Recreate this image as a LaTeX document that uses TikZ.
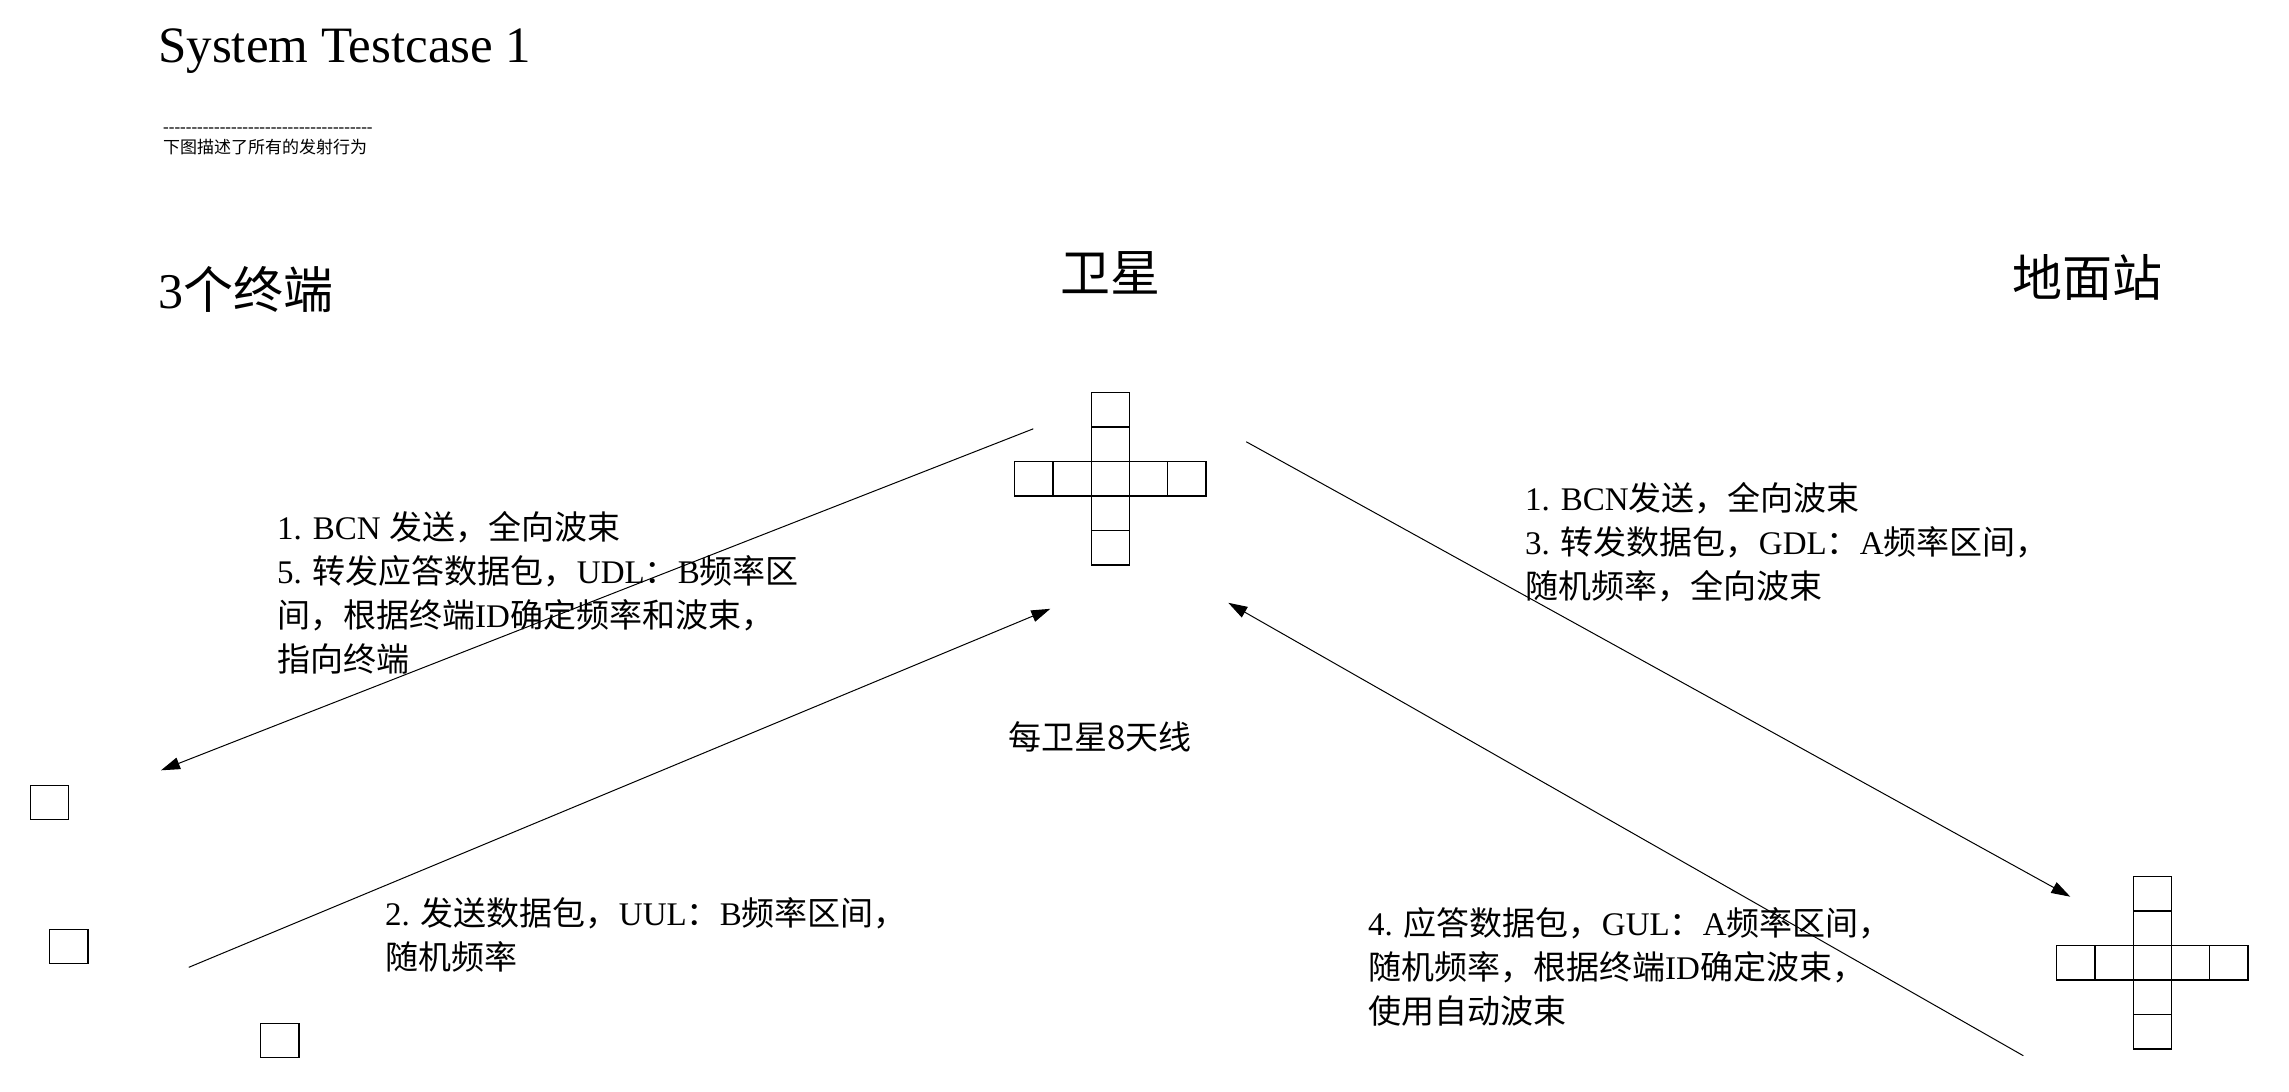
\documentclass[tikz,border=0pt]{standalone}
\usepackage{fontspec}
\setmainfont{Liberation Serif}
\newfontfamily\zh{Noto Sans CJK SC}
\newfontfamily\plainfont{Liberation Serif}
\usetikzlibrary{arrows.meta,calc}

\begin{document}
\begin{tikzpicture}[x=1pt,y=-1pt,
  cell/.style={draw, line width=1.3pt, minimum width=38.3pt, minimum height=34.5pt, inner sep=0pt, outer sep=0pt},
  termbox/.style={draw, line width=1.3pt, minimum width=38.5pt, minimum height=34pt, inner sep=0pt},
  conn/.style={line width=1pt, -{Triangle[length=19pt,width=12pt]}},
  lab/.style={anchor=north west, inner sep=0pt, align=left, font=\fontsize{33}{44}\selectfont},
  heading/.style={inner sep=0pt, font=\fontsize{50}{50}\selectfont}]

\useasboundingbox (0,0) rectangle (2289,1092);

% title and note
\node[anchor=base west, inner sep=0pt, font=\fontsize{51}{51}\selectfont] (title) at (158,62) {System Testcase 1};
\node[anchor=west, inner sep=0pt, font=\fontsize{17}{17}\plainfont] (rule) at (163,130) {-------------------------------------};
\node[anchor=west, inner sep=0pt, font=\fontsize{17}{17}\zh] (note) at (163,147) {下图描述了所有的发射行为};

% column headings
\node[heading, anchor=west] (hterm) at (158,290) {3{\zh 个终端}};
\node[heading] (hsat) at (1110,273) {\zh 卫星};
\node[heading] (hgnd) at (2087,277) {\zh 地面站};

% satellite antenna array
\node[cell] (sat) at (1110.3,478.8) {};
\foreach \dx/\dy [count=\i] in {0/-2,0/-1,-2/0,-1/0,1/0,2/0,0/1,0/2}
  \node[cell] (sat\i) at ($(sat)+(\dx*38.3,\dy*34.5)$) {};

% ground station antenna array
\node[cell] (gnd) at (2152.3,962.7) {};
\foreach \dx/\dy [count=\i] in {0/-2,0/-1,-2/0,-1/0,1/0,2/0,0/1,0/2}
  \node[cell] (gnd\i) at ($(gnd)+(\dx*38.3,\dy*34.5)$) {};

% terminals
\node[termbox] (t1) at (49.5,802.3) {};
\node[termbox] (t2) at (68.8,946.3) {};
\node[termbox] (t3) at (279.8,1040.3) {};

% link end points
\coordinate (s1) at ($(sat)+(-77,-50)$);
\coordinate (e1) at ($(t1)+(111.5,-32)$);
\coordinate (s2) at ($(t2)+(120,21)$);
\coordinate (e2) at ($(sat)+(-60,130)$);
\coordinate (s3) at ($(sat)+(136,-37)$);
\coordinate (e3) at ($(gnd)+(-82,-66)$);
\coordinate (s4) at ($(gnd)+(-129,93)$);
\coordinate (e4) at ($(sat)+(118,124)$);

\draw[conn] (s1) -- (e1);
\draw[conn] (s2) -- (e2);
\draw[conn] (s3) -- (e3);
\draw[conn] (s4) -- (e4);

% link descriptions
\node[lab] (l1) at (277,511) {1. BCN {\zh 发送，全向波束}\\
5. {\zh 转发应答数据包，}UDL{\zh ：}B{\zh 频率区}\\
{\zh 间，根据终端}ID{\zh 确定频率和波束，}\\
{\zh 指向终端}};
\node[lab] (l2) at (385,897) {2. {\zh 发送数据包，}UUL{\zh ：}B{\zh 频率区间，}\\
{\zh 随机频率}};
\node[lab] (l3) at (1525,482) {1. BCN{\zh 发送，全向波束}\\
3. {\zh 转发数据包，}GDL{\zh ：}A{\zh 频率区间，}\\
{\zh 随机频率，全向波束}};
\node[lab] (l4) at (1368,907) {4. {\zh 应答数据包，}GUL{\zh ：}A{\zh 频率区间，}\\
{\zh 随机频率，根据终端}ID{\zh 确定波束，}\\
{\zh 使用自动波束}};

\node[anchor=west, inner sep=0pt, font=\fontsize{33}{33}\zh] (ant) at (1008,737) {每卫星8天线};
\end{tikzpicture}
\end{document}
